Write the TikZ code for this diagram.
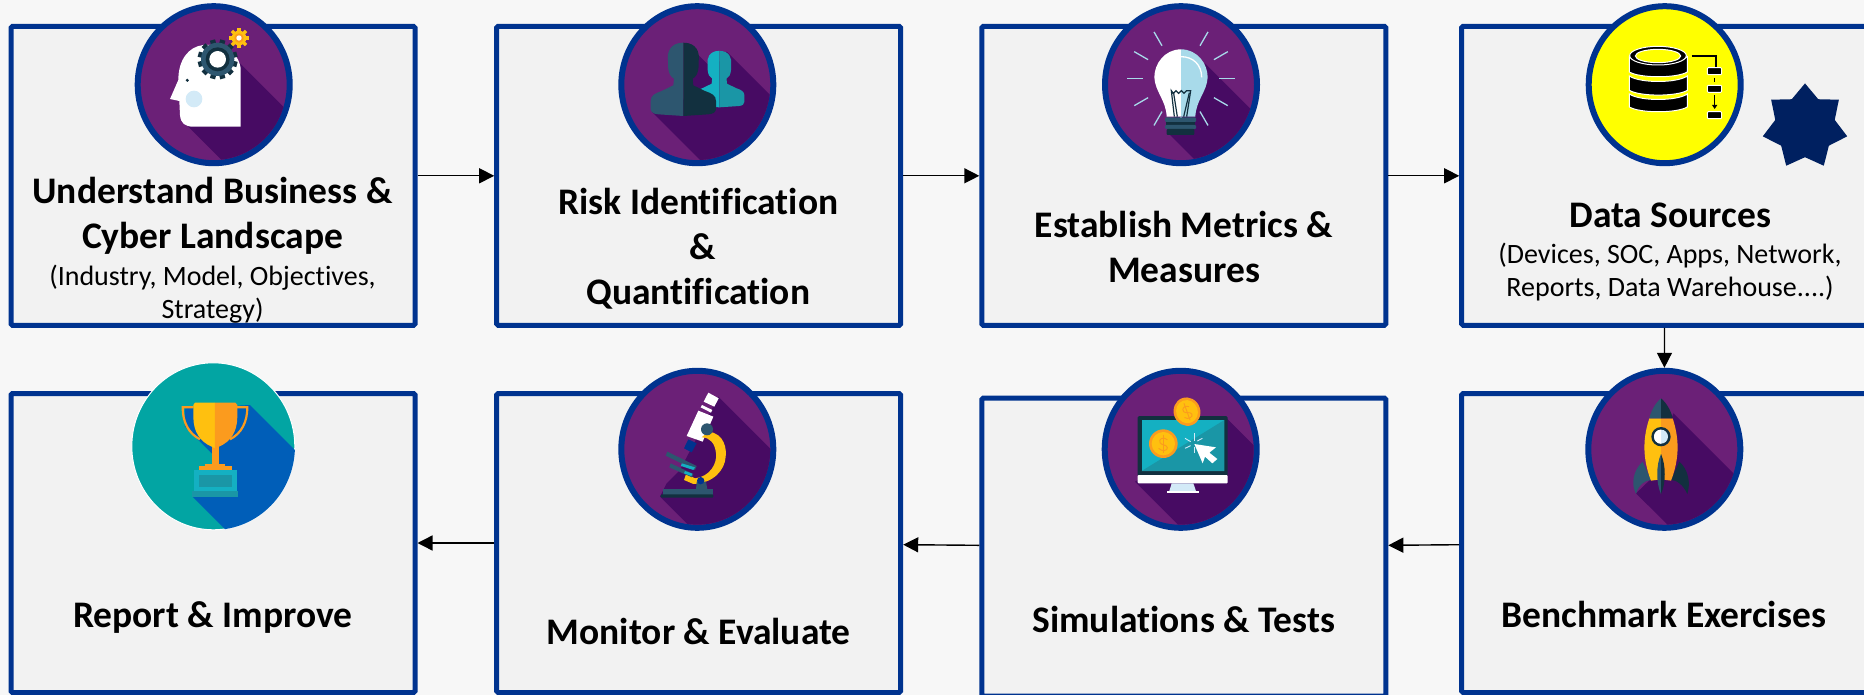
\documentclass[tikz,border=0pt]{standalone}
\usepackage{fontspec}
\setmainfont{Carlito}[Ligatures=NoCommon]
\usepackage{tikz}
\usetikzlibrary{arrows.meta}
\usetikzlibrary{shapes.geometric}
\definecolor{pagegray}{HTML}{F7F7F7}
\definecolor{boxgray}{HTML}{F2F2F2}
\definecolor{ringblue}{HTML}{00338F}
\definecolor{starblue}{HTML}{002060}
\definecolor{plum}{HTML}{6B2077}
\definecolor{plumdark}{HTML}{470B63}
\definecolor{slate}{HTML}{2D566F}
\definecolor{slatedark}{HTML}{12303F}
\definecolor{teal}{HTML}{14B0C2}
\definecolor{tealdark}{HTML}{1A96A6}
\definecolor{cupyellow}{HTML}{FFC00F}
\definecolor{cuporange}{HTML}{FB9B1E}
\definecolor{paleblue}{HTML}{A8DAEA}
\definecolor{paler}{HTML}{D3EAF7}
\definecolor{trophygreen}{HTML}{02A5A3}
\definecolor{trophyblue}{HTML}{005EB8}
\definecolor{dbyellow}{HTML}{FFFF00}
\newcommand{\halfperson}{(0,0) -- (-75,-5) .. controls (-90,-6) and (-98,-12) .. (-98,-22) -- (-98,-45) .. controls (-98,-62) and (-85,-68) .. (-65,-75) -- (-30,-92) -- (-28,-112) .. controls (-38,-118) and (-44,-125) .. (-46,-150) -- (-46,-165) .. controls (-50,-190) and (-40,-220) .. (0,-220) -- cycle}
\newcommand{\coindollar}{\fill[cuporange] (0,0) circle (43); \fill[cupyellow] (0,0) circle (35); \draw[cuporange,line width=0.9pt] (12,-12) .. controls (0,-22) and (-15,-14) .. (-10,-3) .. controls (-6,5) and (10,2) .. (12,12) .. controls (14,22) and (-6,24) .. (-14,14); \draw[cuporange,line width=0.9pt] (0,-27) -- (0,27);}
\begin{document}
\begin{tikzpicture}[x=1pt,y=-1pt,>={Triangle[length=15pt,width=15pt]},
stepbox/.style={draw=ringblue,line width=5pt,fill=boxgray,rounded corners=1.5pt,minimum width=404pt,minimum height=299pt,inner sep=0pt},
iconring/.style={ellipse,draw=ringblue,line width=6pt,fill=plum,minimum width=152pt,minimum height=157pt,inner sep=0pt},
headline/.style={anchor=base,align=center,inner sep=0pt,yshift=-2pt,font=\fontsize{37.5}{45}\selectfont\bfseries},
subline/.style={anchor=base,align=center,inner sep=0pt,yshift=-2pt,font=\fontsize{28}{33}\selectfont},
link/.style={->,line width=1.4pt,color=black},
zoomed/.style={shift={#1},scale=0.33333}]
\useasboundingbox (0,0) rectangle (1864,695);
\fill[pagegray] (0,0) rectangle (1864,695);
\node (business) [stepbox] at (213,175.8) {};
\node (risk) [stepbox] at (698.7,175.8) {};
\node (metrics) [stepbox] at (1183.8,175.8) {};
\node (sources) [stepbox,minimum width=406pt] at (1664.7,175.8) {};
\node (report) [stepbox] at (213,543) {};
\node (monitor) [stepbox] at (698.7,543) {};
\node (simulation) [stepbox,minimum height=298pt] at (1183.8,547) {};
\node (benchmark) [stepbox,minimum width=406pt] at (1664.7,543) {};
\node (businessicon) [iconring] at (213.7,84.7) {};
\node (riskicon) [iconring] at (697.3,84.7) {};
\node (metricsicon) [iconring] at (1181,84.7) {};
\node (sourcesicon) [iconring,fill=dbyellow] at (1664.7,84.7) {};
\node (reporticon) [ellipse,draw=white,line width=1pt,fill=trophygreen,minimum width=163pt,minimum height=167pt,inner sep=0pt] at (213.3,446.3) {};
\node (monitoricon) [iconring] at (697.3,449.3) {};
\node (simulationicon) [iconring] at (1180.7,449.3) {};
\node (benchmarkicon) [iconring] at (1664.3,449.3) {};
\draw [link] (business) -- (risk);
\draw [link] (risk) -- (metrics);
\draw [link] (metrics) -- (sources);
\draw [link] (sources) -- (benchmarkicon);
\draw [link] (benchmark) -- (simulation);
\draw [link] (simulation) -- (monitor);
\draw [link] (monitor) -- (report);
% head
\begin{scope}[zoomed={(0,0)}]
\begin{scope}
\clip (businessicon) ellipse (219 and 226);
\fill[plumdark] (715,185) -- (915,385) -- (915,615) -- (800,615) -- (560,375) -- cycle;
\end{scope}
\fill[white] (722,380) -- (722,205) .. controls (715,150) and (660,130) .. (610,135) .. controls (565,140) and (535,180) .. (535,240) -- (510,297) -- (538,303) -- (540,345) .. controls (542,370) and (555,380) .. (580,380) -- cycle;
\fill[paler] (582,297) circle (25);
\fill[slatedark] (562,241) circle (5);
\foreach \a in {0,30,...,330}
\fill[slatedark,shift={(653,178)},rotate=\a+15] (-8,44) rectangle (8,60);
\fill[slate] (653,178) circle (50);
\fill[slatedark] (653,178) circle (36);
\fill[white] (653,178) circle (25);
\foreach \a in {0,45,...,315}
\fill[cupyellow,shift={(717,114)},rotate=\a] (-5,20) rectangle (5,30);
\fill[cupyellow] (717,114) circle (22);
\fill[cuporange] (717,114) circle (14);
\fill[white] (717,114) circle (8);
\end{scope}
% people
\begin{scope}[zoomed={(480,0)}]
\begin{scope}
\clip (riskicon) ellipse (219 and 226);
\fill[plumdark] (610,300) -- (655,165) -- (700,210) -- (740,155) -- (915,330) -- (915,640) -- (820,640) -- (515,335) -- cycle;
\end{scope}
\fill[teal,shift={(718,322)},scale=0.77] \halfperson;
\fill[tealdark,shift={(718,322)},xscale=-0.77,yscale=0.77] \halfperson;
\fill[slate,shift={(610,348)}] \halfperson;
\fill[slatedark,shift={(610,348)},xscale=-1] \halfperson;
\end{scope}
% bulb
\begin{scope}[zoomed={(960,0)}]
\begin{scope}
\clip (metricsicon) ellipse (219 and 226);
\fill[plumdark] (663,300) -- (735,190) -- (935,390) -- (935,630) -- (855,630) -- (625,400) -- cycle;
\end{scope}
\foreach \a in {-60,-30,...,240}
\draw[paleblue,line width=1.3pt] ([shift={(\a:114)}]663,236) -- ([shift={(\a:162)}]663,236);
\fill[white] (663,148) .. controls (615,148) and (583,190) .. (583,232) .. controls (585,275) and (618,300) .. (620,350) -- (663,350) -- cycle;
\fill[paleblue] (663,148) .. controls (711,148) and (743,190) .. (743,232) .. controls (741,275) and (708,300) .. (706,350) -- (663,350) -- cycle;
\draw[white,line width=1.3pt] (663,170) .. controls (700,170) and (725,195) .. (725,232);
\draw[slatedark,line width=1.2pt] (643,350) -- (634,272) -- (640,280) -- (648,272) -- (656,280) -- (664,272) -- (672,280) -- (680,272) -- (692,272) -- (680,350);
\draw[slatedark,line width=1.2pt] (652,350) -- (641,280) (671,350) -- (688,278);
\fill[slate,rounded corners=1pt] (615,352) rectangle (708,366);
\fill[slatedark] (617,366) rectangle (706,375);
\fill[slate,rounded corners=1pt] (615,375) rectangle (708,387);
\fill[slatedark,rounded corners=1pt] (620,387) rectangle (703,405);
\end{scope}
% database
\begin{scope}[zoomed={(1420,0)}]
\foreach \top/\bot in {282/335,228/285,170/230}
\draw[white,line width=1pt,fill=black] (628,\top) -- (628,\bot-14) .. controls (660,\bot+5) and (770,\bot+5) .. (802,\bot-14) -- (802,\top) .. controls (770,\top+22) and (660,\top+22) .. (628,\top) -- cycle;
\draw[white,line width=1pt,fill=black] (714,167) ellipse (85 and 28);
\draw[white,line width=1pt,fill=dbyellow] (714,168) ellipse (68 and 20);
\draw[white,line width=2.6pt] (815,168) -- (888,168) -- (888,200);
\draw[black,line width=1.1pt] (815,168) -- (888,168) -- (888,200);
\foreach \y in {203,256,335}
\draw[white,line width=1pt,fill=black,rounded corners=1pt] (862,\y) rectangle (905,\y+21);
\draw[black,line width=1.2pt] (884,234) -- (884,246);
\draw[black,line width=1.2pt,-{Triangle[length=4pt,width=5pt]}] (884,285) -- (884,327);
\end{scope}
\node (sourcesmark) [star,star points=7,star point ratio=1.42,fill=starblue,minimum size=86.6pt,inner sep=0pt] at (1805,126.7) {};
% trophy
\begin{scope}[zoomed={(0,350)}]
\begin{scope}
\clip (reporticon) ellipse (245 and 251);
\fill[trophyblue] (555,175) -- (750,165) -- (950,365) -- (950,740) -- (878,740) -- (578,440) -- (640,430) -- (640,315) -- (555,230) -- cycle;
\end{scope}
\draw[cuporange,line width=2.2pt] (580,172) -- (548,172) .. controls (548,215) and (565,250) .. (600,268);
\draw[cuporange,line width=2.2pt] (710,172) -- (742,172) .. controls (742,215) and (725,250) .. (690,268);
\fill[cuporange] (635,285) rectangle (657,345);
\fill[cuporange] (615,342) rectangle (675,350);
\fill[cuporange] (597,349) rectangle (695,360);
\fill[cupyellow] (645,158) -- (585,158) -- (580,165) -- (580,200) .. controls (580,245) and (600,275) .. (635,290) -- (645,295) -- cycle;
\fill[cuporange] (645,158) -- (706,158) -- (712,165) -- (712,200) .. controls (712,245) and (692,275) .. (657,290) -- (645,295) -- cycle;
\fill[teal] (582,360) rectangle (711,424);
\fill[tealdark] (597,376) rectangle (697,410);
\fill[tealdark] (577,424) rectangle (714,440);
\end{scope}
% microscope
\begin{scope}[zoomed={(480,350)}]
\begin{scope}
\clip (monitoricon) ellipse (219 and 226);
\fill[plumdark] (600,360) -- (715,140) -- (940,365) -- (940,840) -- (540,440) -- (560,400) -- cycle;
\end{scope}
\fill[ringblue] (625,268) -- (650,280) -- (635,307) -- (612,295) -- cycle;
\fill[white] (685,128) -- (716,145) -- (703,170) -- (671,155) -- cycle;
\fill[white] (666,165) -- (697,180) -- (693,188) -- (662,172) -- cycle;
\fill[white] (655,182) -- (700,200) -- (668,275) -- (620,258) -- cycle;
\fill[cupyellow] (685,245) .. controls (735,250) and (740,300) .. (737,320) .. controls (735,360) and (700,400) .. (640,402) -- (612,390) -- (618,372) -- (645,385) .. controls (690,380) and (712,340) .. (708,310) .. controls (705,280) and (690,262) .. (665,262) -- cycle;
\fill[slate] (681,238) circle (18);
\fill[slate] (562,305) -- (650,348) -- (645,360) -- (557,317) -- cycle;
\fill[slate] (572,340) -- (640,372) -- (636,382) -- (568,352) -- cycle;
\fill[teal] (605,340) -- (645,352) -- (640,360) -- (603,348) -- cycle;
\fill[teal] (615,363) -- (637,371) -- (634,378) -- (612,370) -- cycle;
\fill[slate] (650,395) -- (678,395) -- (682,418) -- (648,418) -- cycle;
\fill[ringblue] (662,392) circle (11);
\fill[slate] (548,418) rectangle (698,435);
\fill[slatedark,rounded corners=1pt] (542,433) rectangle (700,443);
\end{scope}
% monitor
\begin{scope}[zoomed={(960,350)}]
\begin{scope}
\clip (simulationicon) ellipse (219 and 226);
\fill[plumdark] (700,300) -- (800,205) -- (980,385) -- (980,850) -- (525,395) -- cycle;
\end{scope}
\fill[slatedark,rounded corners=1.5pt] (533,198) rectangle (803,380);
\fill[teal] (545,210) rectangle (793,363);
\fill[tealdark] (545,363) -- (793,210) -- (793,363) -- cycle;
\fill[white,rounded corners=1pt] (533,375) rectangle (803,400);
\fill[paler] (635,400) -- (700,400) -- (708,423) -- (628,423) -- cycle;
\fill[white] (620,423) rectangle (717,429);
\begin{scope}[shift={(610,281)}]
\coindollar
\end{scope}
\begin{scope}[shift={(681,185)},rotate=20,xscale=0.93]
\coindollar
\end{scope}
\foreach \xa/\ya/\xb/\yb in {703/250/703/272,727/265/712/273,675/265/692/275,675/295/692/287,703/292/703/310}
\draw[paler,line width=0.9pt] (\xa,\ya) -- (\xb,\yb);
\fill[white] (703,282) -- (768,292) -- (748,308) -- (772,327) -- (757,340) -- (735,320) -- (728,340) -- cycle;
\end{scope}
% rocket
\begin{scope}[zoomed={(1420,350)}]
\begin{scope}
\clip (benchmarkicon) ellipse (219 and 226);
\fill[plumdark] (723,300) -- (760,190) -- (1000,430) -- (1000,780) -- (648,430) -- (700,380) -- cycle;
\end{scope}
\fill[slate] (668,335) .. controls (640,360) and (632,400) .. (648,432) .. controls (655,405) and (675,390) .. (693,390) -- cycle;
\fill[slatedark] (778,335) .. controls (806,360) and (812,400) .. (802,432) .. controls (790,405) and (770,390) .. (753,390) -- cycle;
\fill[cupyellow] (723,205) -- (688,205) .. controls (670,260) and (665,320) .. (693,392) -- (723,388) -- cycle;
\fill[cuporange] (723,205) -- (758,205) .. controls (776,260) and (781,320) .. (753,392) -- (723,388) -- cycle;
\fill[slate] (723,145) .. controls (705,160) and (692,185) .. (688,205) -- (723,205) -- cycle;
\fill[slatedark] (723,145) .. controls (741,160) and (754,185) .. (758,205) -- (723,205) -- cycle;
\fill[slate] (723,312) .. controls (708,345) and (708,400) .. (723,432) -- cycle;
\fill[slatedark] (723,312) .. controls (738,345) and (738,400) .. (723,432) -- cycle;
\fill[slatedark] (723,260) circle (29);
\fill[paler] (723,260) circle (21);
\fill[white] (723,281) arc (90:270:21) -- cycle;
\end{scope}
\node (businesstitle) [headline] at (212.5,247) {Understand Business \&\\Cyber Landscape};
\node (businessnote) [subline] at (212.5,316.7) {(Industry, Model, Objectives,\\Strategy)};
\node (risktitle) [headline] at (698.3,302) {Risk Identification\\\hspace*{8pt}\&\\Quantification};
\node (metricstitle) [headline] at (1184,280.7) {Establish Metrics \&\\Measures};
\node (sourcestitle) [headline] at (1670.3,225.7) {Data Sources};
\node (sourcesnote) [subline] at (1670,295) {(Devices, SOC, Apps, Network,\\Reports, Data Warehouse....)};
\node (reporttitle) [headline] at (212.8,625) {Report \& Improve};
\node (monitortitle) [headline] at (698.7,642.7) {Monitor \& Evaluate};
\node (simulationtitle) [headline] at (1183.7,630.7) {Simulations \& Tests};
\node (benchmarktitle) [headline] at (1663.7,625) {Benchmark Exercises};
\end{tikzpicture}
\end{document}
